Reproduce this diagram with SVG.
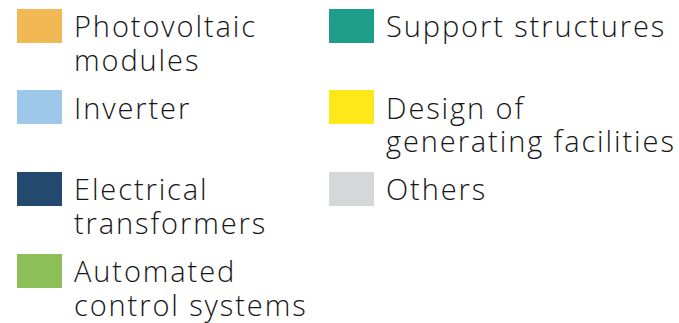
<svg xmlns="http://www.w3.org/2000/svg" width="679" height="323" viewBox="0 0 679 323">
<style>
text{font-family:"Open Sans",Lato,sans-serif;font-size:29px;fill:#161616;font-weight:300;letter-spacing:1.9px;font-variant-ligatures:none}
rect{stroke:none}
</style>
<rect width="679" height="323" fill="#fff"/>
<g id="pv"><rect x="17" y="9" width="45" height="34" fill="#F2B854"/><text x="74" y="37">Photovoltaic</text><text x="74" y="71">modules</text></g>
<g id="inverter"><rect x="17" y="90" width="45" height="34" fill="#9DC8EA"/><text x="74" y="119">Inverter</text></g>
<g id="transformers"><rect x="17" y="172" width="45" height="34" fill="#234A6E"/><text x="74" y="200">Electrical</text><text x="74" y="234">transformers</text></g>
<g id="acs"><rect x="17" y="254" width="45" height="34" fill="#8CBF57"/><text x="74" y="282">Automated</text><text x="74" y="316">control systems</text></g>
<g id="support"><rect x="329" y="9" width="45" height="34" fill="#1E9E8A"/><text x="386" y="37">Support structures</text></g>
<g id="design"><rect x="329" y="90" width="45" height="34" fill="#FFE81A"/><text x="386" y="119">Design of</text><text x="386" y="152">generating facilities</text></g>
<g id="others"><rect x="329" y="172" width="45" height="34" fill="#D6D7D9"/><text x="386" y="200">Others</text></g>
</svg>
